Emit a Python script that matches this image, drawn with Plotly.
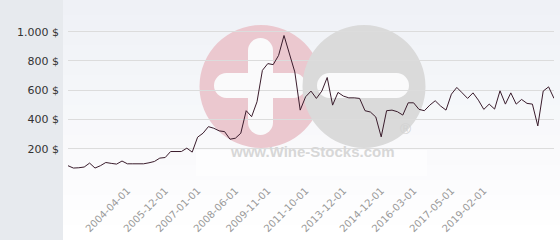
import plotly.graph_objects as go

# ---- data (price per index, evenly spaced auction points) ----
prices = [84, 68, 70, 75, 102, 68, 84, 106, 100, 95,
          116, 97, 97, 97, 97, 104, 113, 136, 140, 181,
          181, 181, 204, 177, 279, 306, 351, 340, 322, 317,
          265, 272, 306, 460, 419, 521, 736, 782, 775, 838,
          974, 850, 725, 464, 555, 594, 544, 594, 687, 498,
          585, 560, 548, 548, 544, 460, 451, 417, 281, 460,
          464, 453, 430, 514, 514, 469, 460, 498, 528, 492,
          464, 573, 619, 582, 544, 582, 532, 469, 505, 471,
          596, 505, 582, 505, 537, 510, 505, 356, 594, 623, 544]
x_index = list(range(len(prices)))

tick_positions = [11, 18, 24, 31, 37, 44, 51, 58, 64, 71, 77]
tick_labels = ['2004-04-01', '2005-12-01', '2007-01-01', '2008-06-01', '2009-11-01',
               '2011-10-01', '2013-12-01', '2014-12-01', '2016-03-01', '2017-05-01',
               '2019-02-01']
y_ticks = [0, 200, 400, 600, 800, 1000]
y_labels = ['', '200 $', '400 $', '600 $', '800 $', '1.000 $']

# ---- layout geometry ----
W, H = 560, 240
L, R, T, B = 68, 6, 20, 62
PW, PH = W - L - R, H - T - B


def px(x):
    return (x - L) / PW


def py(y):
    return (H - B - y) / PH


shapes = []
# plot panel with a soft vertical gradient (left strip keeps the paper colour)
n_bands = 16
for k in range(n_bands):
    y0 = k * H / n_bands
    y1 = (k + 1) * H / n_bands
    t = k / (n_bands - 1)
    c0 = (239, 241, 246)
    c1 = (255, 255, 255)
    col = tuple(int(round(c0[i] + (c1[i] - c0[i]) * t)) for i in range(3))
    shapes.append(dict(type='rect', xref='paper', yref='paper', layer='below',
                       x0=px(63), x1=px(W), y0=py(y1), y1=py(y0),
                       fillcolor='rgb(%d,%d,%d)' % col, line=dict(width=0)))


def circle(cx, cy, r, color):
    return dict(type='circle', xref='paper', yref='paper', layer='below',
                x0=px(cx - r), x1=px(cx + r), y0=py(cy + r), y1=py(cy - r),
                fillcolor=color, line=dict(width=0))


def rect(x0, x1, y0, y1, color):
    return dict(type='rect', xref='paper', yref='paper', layer='below',
                x0=px(x0), x1=px(x1), y0=py(y1), y1=py(y0),
                fillcolor=color, line=dict(width=0))


def bar_h(x0, x1, yc, h, color):
    r = h / 2
    return [rect(x0 + r, x1 - r, yc - r, yc + r, color),
            circle(x0 + r, yc, r, color), circle(x1 - r, yc, r, color)]


def bar_v(xc, y0, y1, w, color):
    r = w / 2
    return [rect(xc - r, xc + r, y0 + r, y1 - r, color),
            circle(xc, y0 + r, r, color), circle(xc, y1 - r, r, color)]


# watermark logo: pink "+" disc, then grey "-" disc drawn over it
white = '#fafafb'
shapes.append(circle(261, 86.5, 61.5, '#ebc8cf'))
shapes += bar_h(214, 306, 85.5, 25, white)
shapes += bar_v(260.5, 38, 135, 25, white)
shapes.append(circle(364, 86.5, 61.5, '#dadada'))
shapes += bar_h(317, 409, 85.5, 25, white)
shapes.append(rect(196, 427, 150, 176, 'rgba(255,255,255,0.55)'))

fig = go.Figure()
fig.add_trace(go.Scatter(x=x_index, y=prices, mode='lines',
                         line=dict(color='#3a1c2c', width=1), hoverinfo='skip'))

fig.update_layout(
    width=W, height=H,
    margin=dict(l=L, r=R, t=T, b=B, pad=0),
    paper_bgcolor='#e7eaee',
    plot_bgcolor='rgba(0,0,0,0)',
    showlegend=False,
    shapes=shapes,
    font=dict(family='DejaVu Sans', size=11, color='#333333'),
    xaxis=dict(range=[0, len(prices) - 1], tickmode='array', tickvals=tick_positions,
               ticktext=tick_labels, tickangle=-45, showgrid=False, zeroline=False,
               showline=False, ticks='', ticklabelstandoff=4,
               tickfont=dict(family='DejaVu Sans', size=10, color='#999999')),
    yaxis=dict(range=[0, 1080], tickmode='array', tickvals=y_ticks, ticktext=y_labels,
               showgrid=True, gridcolor='#dcdcdc', gridwidth=1, zeroline=False,
               showline=False, ticks='', ticklabelstandoff=8,
               tickfont=dict(family='DejaVu Sans', size=11, color='#333333')),
    annotations=[
        dict(xref='paper', yref='paper', x=px(312), y=py(162), showarrow=False,
             text='<b>www.Wine-Stocks.com</b>',
             font=dict(family='Liberation Sans', size=15, color='#d7d7d7')),
        dict(xref='paper', yref='paper', x=px(413), y=py(139), showarrow=False,
             text='®', font=dict(family='Liberation Sans', size=15, color='#d2d2d2')),
    ],
)

fig.write_html('out.html')
